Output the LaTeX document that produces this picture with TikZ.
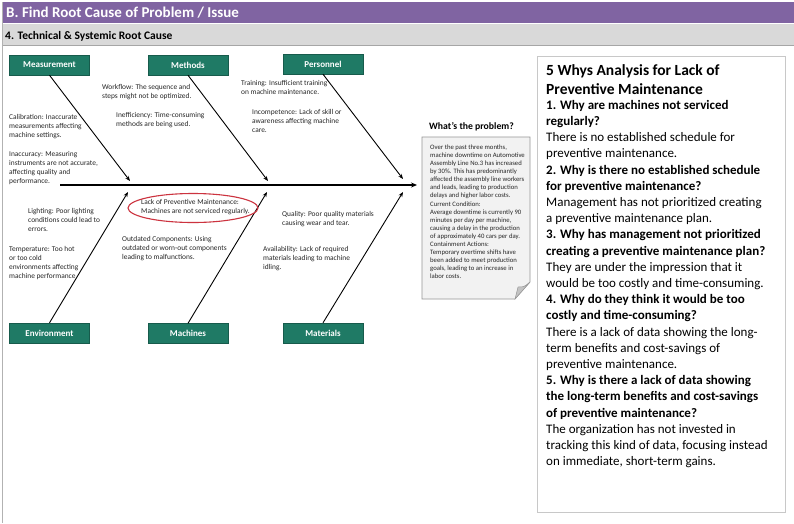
\documentclass[tikz,border=0pt]{standalone}
\usepackage{fontspec}
\setmainfont{Carlito}
\usetikzlibrary{arrows.meta,shapes.geometric}
\definecolor{hdrpurple}{RGB}{128,100,162}
\definecolor{bargray}{RGB}{217,217,217}
\definecolor{catteal}{RGB}{31,122,101}
\definecolor{ovalred}{RGB}{204,51,63}
\definecolor{notefill}{RGB}{242,242,242}
\definecolor{noteline}{RGB}{150,150,150}
\definecolor{foldfill}{RGB}{195,195,195}
\definecolor{panelline}{RGB}{200,200,200}
\definecolor{txtgray}{RGB}{38,38,38}
\tikzset{
  catbox/.style={fill=catteal, draw=catteal!75!black, line width=0.4pt, text=white,
    font=\fontsize{9}{11}\bfseries\selectfont, minimum width=80pt, minimum height=20pt, inner sep=0},
  causetxt/.style={anchor=north west, inner sep=0, align=left, text=txtgray,
    font=\fontsize{7.4}{9}\selectfont},
  bone/.style={line width=0.9pt, -{Stealth[length=5pt,width=4pt]}},
  spine/.style={line width=1.5pt, -{Stealth[length=6pt,width=5pt]}}
}
\begin{document}
\begin{tikzpicture}[x=1pt,y=-1pt]
\useasboundingbox (0,0) rectangle (794,523);
\fill[white] (0,0) rectangle (794,523);
% header bars
\fill[hdrpurple] (2,2) rectangle (794,23);
\fill[bargray] (2,24) rectangle (794,45);
\draw[gray!70] (2,45) -- (794,45);
\draw[gray!60, line width=1pt] (2.5,2) -- (2.5,523);
\node[anchor=west, inner sep=0, text=white, font=\fontsize{15}{18}\bfseries\selectfont] (hdr) at (6,13) {B. Find Root Cause of Problem / Issue};
\node[anchor=west, inner sep=0, font=\fontsize{11.5}{13}\bfseries\selectfont] (sub) at (5,36) {4. Technical \& Systemic Root Cause};

% category boxes
\node[catbox] (meas) at (49.5,65) {Measurement};
\node[catbox] (meth) at (188,65) {Methods};
\node[catbox] (pers) at (323,64) {Personnel};
\node[catbox] (envi) at (49.5,333) {Environment};
\node[catbox] (mach) at (188,333.5) {Machines};
\node[catbox] (matl) at (323,333) {Materials};

% spine
\coordinate (spS) at (60,185);
\coordinate (spE) at (417,185);
\draw[spine] (spS) -- (spE);

% bone ends
\coordinate (m1) at (130,181);
\coordinate (m2) at (268,181);
\coordinate (m3) at (403,179);
\coordinate (b1) at (128,192);
\coordinate (b2) at (267,192);
\coordinate (b3) at (403,192);
\draw[bone] (meas.south) -- (m1);
\draw[bone] (meth.south) -- (m2);
\draw[bone] (pers.south) -- (m3);
\draw[bone] (envi.north) -- (b1);
\draw[bone] (mach.north) -- (b2);
\draw[bone] (matl.north) -- (b3);

% cause texts
\node[causetxt] (calib) at (9,114.5) {Calibration: Inaccurate\\measurements affecting\\machine settings.};
\node[causetxt] (inacc) at (9,151.5) {Inaccuracy: Measuring\\instruments are not accurate,\\affecting quality and\\performance.};
\node[causetxt] (workf) at (102,84.5) {Workflow: The sequence and\\steps might not be optimized.};
\node[causetxt] (ineff) at (116,112.5) {Inefficiency: Time-consuming\\methods are being used.};
\node[causetxt] (train) at (241,80.5) {Training: Insufficient training\\on machine maintenance.};
\node[causetxt] (incomp) at (252,109.5) {Incompetence: Lack of skill or\\awareness affecting machine\\care.};
\node[causetxt] (light) at (28,208.5) {Lighting: Poor lighting\\conditions could lead to\\errors.};
\node[causetxt] (temp) at (9,246.5) {Temperature: Too hot\\or too cold\\environments affecting\\machine performance.};
\node[causetxt] (lackpm) at (141,199.5) {Lack of Preventive Maintenance:\\Machines are not serviced regularly.};
\node[causetxt] (outd) at (122,236.5) {Outdated Components: Using\\outdated or worn-out components\\leading to malfunctions.};
\node[causetxt] (qual) at (282,211.5) {Quality: Poor quality materials\\causing wear and tear.};
\node[causetxt] (avail) at (263,246.5) {Availability: Lack of required\\materials leading to machine\\idling.};

% red oval
\node[ellipse, draw=ovalred, line width=1.1pt, minimum width=130pt, minimum height=29pt, inner sep=0] (oval) at (193,208) {};

% problem note
\node[anchor=west, inner sep=0, font=\fontsize{9.7}{11}\bfseries\selectfont] (ptitle) at (429,127) {What's the problem?};
\draw[noteline, fill=notefill, line width=0.6pt] (422,137) -- (530,137) -- (530,282) -- (515,299) -- (422,299) -- cycle;
\draw[noteline, fill=foldfill, line width=0.5pt] (530,282) -- (515,299) .. controls (517,293) .. (518,287) .. controls (524,287) .. (530,282) -- cycle;
\node[anchor=north west, inner sep=0, align=left, text=txtgray, font=\fontsize{6.7}{8.1}\selectfont] (ptext) at (430,144.5) {Over the past three months,\\machine downtime on Automotive\\Assembly Line No.3 has increased\\by 30\%. This has predominantly\\affected the assembly line workers\\and leads, leading to production\\delays and higher labor costs.\\Current Condition:\\Average downtime is currently 90\\minutes per day per machine,\\causing a delay in the production\\of approximately 40 cars per day.\\Containment Actions:\\Temporary overtime shifts have\\been added to meet production\\goals, leading to an increase in\\labor costs.};

% right panel
\node[draw=panelline, fill=white, line width=0.8pt, minimum width=248pt, minimum height=456pt, inner sep=0, anchor=north west] (panel) at (537,56) {};
\node[anchor=north west, inner sep=0, align=left, font=\fontsize{15.5}{19}\bfseries\selectfont] (ptitle2) at (546,64) {5 Whys Analysis for Lack of\\Preventive Maintenance};
\node[anchor=north west, inner sep=0, align=left, font=\fontsize{13}{16.2}\selectfont] (whys) at (546,100) {\textbf{1. Why are machines not serviced}\\\textbf{regularly?}\\There is no established schedule for\\preventive maintenance.\\\textbf{2. Why is there no established schedule}\\\textbf{for preventive maintenance?}\\Management has not prioritized creating\\a preventive maintenance plan.\\\textbf{3. Why has management not prioritized}\\\textbf{creating a preventive maintenance plan?}\\They are under the impression that it\\would be too costly and time-consuming.\\\textbf{4. Why do they think it would be too}\\\textbf{costly and time-consuming?}\\There is a lack of data showing the long-\\term benefits and cost-savings of\\preventive maintenance.\\\textbf{5. Why is there a lack of data showing}\\\textbf{the long-term benefits and cost-savings}\\\textbf{of preventive maintenance?}\\The organization has not invested in\\tracking this kind of data, focusing instead\\on immediate, short-term gains.};
\end{tikzpicture}
\end{document}
